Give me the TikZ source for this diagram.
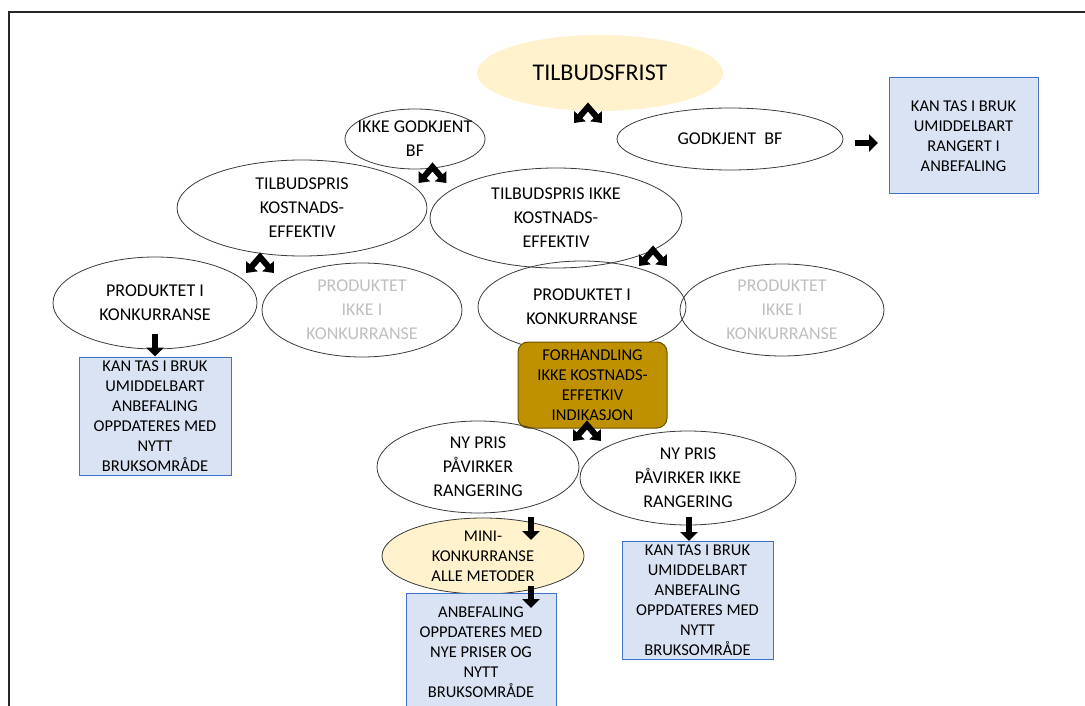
\documentclass[tikz,border=0pt]{standalone}
\usepackage{fontspec}
\setmainfont{Carlito}
\usetikzlibrary{shapes.geometric,arrows.meta,calc}

\definecolor{softyellow}{HTML}{FFF2CC}
\definecolor{boxfill}{HTML}{DAE3F3}
\definecolor{boxline}{HTML}{4472C4}
\definecolor{gold}{HTML}{BF9000}
\definecolor{goldline}{HTML}{6B5200}
\definecolor{fadedtext}{HTML}{BFBFBF}
\definecolor{outline}{HTML}{3A3A3A}

\newcommand\fsBig{\fontsize{24}{29}\selectfont}
\newcommand\fsEll{\fontsize{18}{24}\selectfont}
\newcommand\fsBox{\fontsize{16.5}{20}\selectfont}

\tikzset{
  ell/.style={ellipse, draw=outline, line width=0.8pt, inner xsep=-40pt,
    inner ysep=-20pt, align=center, font=\fsEll},
  infobox/.style={rectangle, draw=boxline, fill=boxfill, line width=1pt,
    inner sep=0pt, align=center, font=\fsBox},
  downarrow/.style={line width=6pt, -{Triangle[length=9pt,width=17pt]}},
  splitarrow/.style={line width=6pt, line join=miter,
    {Triangle[length=9pt,width=15pt]}-{Triangle[length=9pt,width=15pt]}},
}

\begin{document}
\begin{tikzpicture}[x=1pt,y=-1pt]
\useasboundingbox (0,0) rectangle (1085,706);

% outer frame
\draw[line width=2.2pt, black!85] (9,730) -- (9,12) -- (1100,12);

% top level
\node[ellipse, fill=softyellow, inner sep=-30pt, minimum width=246pt,
      minimum height=76pt, font=\fsBig] (tilbud) at (600,73) {TILBUDSFRIST};
\node[ell, minimum width=140pt, minimum height=60pt] (ikkegodkj) at (415,139)
      {IKKE GODKJENT\\BF};
\node[ell, minimum width=226pt, minimum height=62pt] (godkj) at (730,139)
      {GODKJENT\ \ BF};
\node[infobox, minimum width=149pt, minimum height=116pt] (boxtop) at (963.5,136)
      {KAN TAS I BRUK\\UMIDDELBART\\RANGERT I\\ANBEFALING};

% price level
\node[ell, minimum width=250pt, minimum height=96pt] (tkost) at (302,208)
      {TILBUDSPRIS\\KOSTNADS-\\EFFEKTIV};
\node[ell, minimum width=252pt, minimum height=100pt] (tikost) at (556,218)
      {TILBUDSPRIS IKKE\\KOSTNADS-\\EFFEKTIV};

% competition level
\node[ell, minimum width=204pt, minimum height=92pt] (pik1) at (155,303)
      {PRODUKTET I\\KONKURRANSE};
\node[ell, minimum width=200pt, minimum height=94pt, text=fadedtext] (pikk1) at (362,310)
      {PRODUKTET\\IKKE I\\KONKURRANSE};
\node[ell, minimum width=208pt, minimum height=92pt] (pik2) at (582,307)
      {PRODUKTET I\\KONKURRANSE};
\node[ell, minimum width=204pt, minimum height=92pt, text=fadedtext] (pikk2) at (782,310)
      {PRODUKTET\\IKKE I\\KONKURRANSE};

\node[infobox, minimum width=152pt, minimum height=118pt] (boxleft) at (155,416)
      {KAN TAS I BRUK\\UMIDDELBART\\ANBEFALING\\OPPDATERES MED\\NYTT\\BRUKSOMRÅDE};

% negotiation
\node[rectangle, rounded corners=10pt, draw=goldline, fill=gold, line width=1pt,
      inner sep=0pt, minimum width=149pt, minimum height=86pt, align=center,
      font=\fsBox] (forh) at (592.5,385)
      {FORHANDLING\\IKKE KOSTNADS-\\EFFETKIV\\INDIKASJON};

\node[ell, minimum width=202pt, minimum height=92pt] (nyrang) at (478,467)
      {NY PRIS\\PÅVIRKER\\RANGERING};
\node[ell, minimum width=216pt, minimum height=94pt] (nyikke) at (688,478)
      {NY PRIS\\PÅVIRKER IKKE\\RANGERING};

\node[ell, fill=softyellow, minimum width=202pt, minimum height=76pt, font=\fsBox]
      (mini) at (483,556) {MINI-\\KONKURRANSE\\ALLE METODER};

\node[infobox, minimum width=151pt, minimum height=118pt] (boxright) at (697.5,600)
      {KAN TAS I BRUK\\UMIDDELBART\\ANBEFALING\\OPPDATERES MED\\NYTT\\BRUKSOMRÅDE};
\node[infobox, minimum width=150pt, minimum height=118pt] (boxbottom) at (481,652)
      {ANBEFALING\\OPPDATERES MED\\NYE PRISER OG\\NYTT\\BRUKSOMRÅDE};

% split arrows (peak points)
\coordinate (sa1) at (588,107);
\coordinate (sa2) at (432.5,167);
\coordinate (sa3) at (260,257);
\coordinate (sa4) at (653,250);
\coordinate (sa5) at (587,425);
\foreach \p in {sa1,sa2,sa3,sa4,sa5}
  \draw[splitarrow] ($(\p)+(-14,16)$) -- (\p) -- ($(\p)+(14,16)$);

% straight block arrows
\coordinate (ra1) at (855,143);
\coordinate (ra2) at (878,143);
\draw[downarrow] (ra1) -- (ra2);

\draw[downarrow] ([yshift=15pt]pik1.south) -- (boxleft.north);

\coordinate (da1) at (531,517);
\coordinate (da2) at (531,540);
\draw[downarrow] (da1) -- (da2);

\coordinate (da3) at (689,517);
\coordinate (da4) at (689,541);
\draw[downarrow] (da3) -- (da4);

\coordinate (da5) at (531,586);
\coordinate (da6) at (531,608);
\draw[downarrow] (da5) -- (da6);
\end{tikzpicture}
\end{document}
